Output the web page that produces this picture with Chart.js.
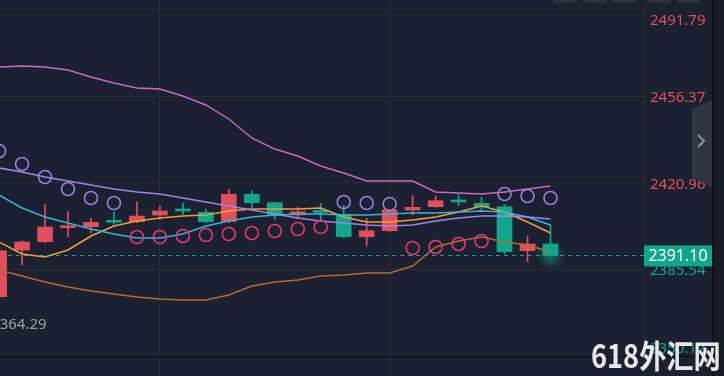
<!DOCTYPE html>
<html>
<head>
<meta charset="utf-8">
<script src="https://cdn.jsdelivr.net/npm/chart.js@4.4.1/dist/chart.umd.min.js"></script>
<style>
  html, body { margin: 0; padding: 0; background: #1b2130; }
  #wrap { position: relative; width: 724px; height: 376px; overflow: hidden; }
  #mark { position: absolute; left: 591px; top: 331px; font: bold 32px "Noto Sans CJK SC", sans-serif; color: #e8e8ea;
          transform: scaleX(0.85); transform-origin: left top; white-space: nowrap; }
</style>
</head>
<body>
<div id="wrap">
  <canvas id="kline"></canvas>
  <div id="mark">618外汇网</div>
</div>

<script>
/* K-LINE: candles + MA + BOLL + SAR */

// candles, oldest first
const opens  = [2374.20, 2393.30, 2396.72, 2402.45, 2402.86, 2404.90, 2404.90, 2407.65, 2409.50, 2408.75, 2405.00, 2416.12, 2412.68,
                2407.65, 2408.90, 2407.93, 2398.76, 2401.22, 2409.69, 2411.05, 2413.20, 2412.44, 2411.05, 2393.03, 2395.77];
const closes = [2393.03, 2396.59, 2402.73, 2402.70, 2404.66, 2404.70, 2407.24, 2409.29, 2409.30, 2404.90, 2416.12, 2412.68, 2407.65,
                2409.00, 2408.70, 2398.76, 2401.22, 2409.69, 2410.80, 2413.50, 2413.00, 2411.05, 2392.62, 2395.77, 2391.10];
const highs  = [2393.60, 2397.12, 2412.03, 2409.00, 2406.42, 2409.00, 2413.09, 2411.33, 2412.56, 2410.10, 2418.17, 2417.60, 2412.97,
                2410.80, 2412.44, 2411.74, 2406.30, 2409.98, 2415.43, 2415.43, 2415.90, 2414.89, 2412.03, 2399.05, 2403.55];
const lows   = [2364.29, 2387.17, 2396.18, 2398.76, 2400.28, 2403.84, 2404.49, 2405.89, 2407.93, 2404.49, 2404.49, 2410.39, 2405.89,
                2406.30, 2405.60, 2398.35, 2394.96, 2400.81, 2407.65, 2410.80, 2411.40, 2409.69, 2391.68, 2388.53, 2391.10];

// indicators
const bollUpper = [2468.25, 2468.66, 2468.25, 2467.02, 2464.15, 2461.70, 2459.65, 2459.24, 2456.37, 2452.69, 2446.95, 2439.18, 2434.67,
                   2431.81, 2427.71, 2424.85, 2421.57, 2421.57, 2421.57, 2417.07, 2416.66, 2416.25, 2417.07, 2418.29, 2419.52];
const bollMid   = [2426.89, 2425.25, 2423.21, 2421.57, 2419.93, 2418.29, 2417.07, 2416.25, 2414.61, 2412.97, 2411.33, 2409.70, 2408.06,
                   2406.42, 2405.19, 2404.37, 2403.55, 2403.14, 2403.55, 2405.19, 2406.42, 2407.24, 2407.24, 2406.83, 2406.01];
const bollLower = [2385.13, 2382.67, 2380.21, 2378.17, 2376.53, 2375.30, 2374.07, 2373.25, 2372.84, 2372.84, 2374.89, 2378.58, 2380.21,
                   2381.03, 2382.67, 2383.08, 2383.90, 2383.90, 2386.77, 2394.55, 2397.00, 2398.64, 2396.59, 2395.36, 2392.50];
const maFast    = [2396.59, 2391.68, 2390.45, 2393.32, 2399.05, 2403.14, 2405.19, 2406.42, 2407.24, 2407.65, 2409.29, 2410.10, 2410.10,
                   2410.10, 2410.51, 2406.83, 2404.78, 2404.78, 2405.60, 2406.83, 2408.88, 2411.33, 2408.88, 2404.78, 2400.28];
const maSlow    = [2415.84, 2410.51, 2406.83, 2404.37, 2401.92, 2399.87, 2398.23, 2398.23, 2399.87, 2403.14, 2405.19, 2406.83, 2407.65,
                   2408.06, 2408.06, 2407.65, 2407.65, 2408.06, 2408.47, 2408.47, 2408.88, 2409.29, 2408.88, 2406.83, 2403.55];
const sar       = [2433.85, 2428.53, 2423.21, 2418.29, 2414.61, 2412.56, 2398.64, 2398.64, 2399.05, 2399.46, 2399.87, 2400.28, 2401.10,
                   2401.92, 2402.73, 2412.97, 2412.56, 2412.15, 2394.14, 2394.55, 2395.77, 2397.00, 2416.25, 2415.43, 2414.61];

const priceTicks = [2491.79, 2456.37, 2420.96, 2385.54, 2350.12];
const timeGrid = [7, 17];
const lastPrice = 2391.10;
const lowLabel = 2364.29;

const UP = '#e04f5c', DOWN = '#11a68b', GRID = '#262d3b';

const candleColor = opens.map((o, i) => closes[i] >= o ? UP : DOWN);
const xy = arr => arr.map((v, i) => ({ x: i, y: v }));

const extras = {
  id: 'extras',
  beforeDraw(chart) {
    const c = chart.ctx;
    c.save();
    c.fillStyle = '#1b2130';
    c.fillRect(0, 0, chart.width, chart.height);
    c.restore();
  },
  beforeDatasetsDraw(chart) {
    const c = chart.ctx, y = chart.scales.y.getPixelForValue(lastPrice);
    c.save();
    c.strokeStyle = DOWN;
    c.lineWidth = 1;
    c.setLineDash([4, 4]);
    c.beginPath();
    c.moveTo(0, Math.round(y) + 0.5);
    c.lineTo(chart.chartArea.right, Math.round(y) + 0.5);
    c.stroke();
    c.restore();
  },
  afterDatasetsDraw(chart) {
    const c = chart.ctx;
    const n = closes.length - 1;
    const gx = chart.scales.x.getPixelForValue(n), gy = chart.scales.y.getPixelForValue(lastPrice);
    const g = c.createRadialGradient(gx, gy, 0, gx, gy, 14);
    g.addColorStop(0, 'rgba(17,166,139,0.6)');
    g.addColorStop(1, 'rgba(17,166,139,0)');
    c.save();
    c.fillStyle = g;
    c.beginPath();
    c.arc(gx, gy, 14, 0, Math.PI * 2);
    c.fill();
    c.restore();
  },
  afterDraw(chart) {
    const c = chart.ctx, ys = chart.scales.y, xs = chart.scales.x;
    const right = chart.chartArea.right;
    c.save();
    // bottom pane separator
    const by = Math.round(ys.getPixelForValue(priceTicks[priceTicks.length - 1])) + 0.5;
    c.strokeStyle = '#0c1017';
    c.lineWidth = 1.5;
    c.beginPath(); c.moveTo(0, by); c.lineTo(712, by); c.stroke();

    // min price label
    c.fillStyle = '#9aa0ab';
    c.font = '15px "Noto Sans"';
    c.textBaseline = 'middle';
    c.textAlign = 'left';
    c.fillText(lowLabel.toFixed(2), xs.getPixelForValue(0) - 8, ys.getPixelForValue(lowLabel) + 4);

    // last price box
    const py = ys.getPixelForValue(lastPrice);
    c.fillStyle = '#0fa68a';
    c.fillRect(right, py - 10, 68, 21);
    c.fillStyle = '#ffffff';
    c.font = '16px "Noto Sans"';
    c.textAlign = 'center';
    c.fillText(lastPrice.toFixed(2), right + 34, py + 1);

    // side strip
    c.fillStyle = '#161b25';
    c.fillRect(712, 0, 12, chart.height);
    c.fillStyle = '#0b0e14';
    c.fillRect(712, 0, 1.5, chart.height);

    // collapse button
    c.fillStyle = '#2f3543';
    c.beginPath();
    c.moveTo(692, 109); c.lineTo(712, 100); c.lineTo(712, 187); c.lineTo(692, 178);
    c.closePath(); c.fill();
    c.strokeStyle = '#8b91a0';
    c.lineWidth = 2;
    c.beginPath(); c.moveTo(698, 135); c.lineTo(704, 141); c.lineTo(698, 147); c.stroke();

    // toolbar buttons peeking at top
    c.fillStyle = '#2b313e';
    [553, 583, 612, 647, 677].forEach(bx => {
      c.beginPath();
      c.roundRect(bx, -6, 24, 9, 3);
      c.fill();
    });
    c.restore();
  }
};

const ctx = document.getElementById('kline').getContext('2d');
const chart = new Chart(ctx, {
  type: 'bar',
  data: {
    datasets: [
      {
        type: 'line', label: 'SAR', data: xy(sar), showLine: false,
        pointStyle: 'circle', pointRadius: 6.5, pointBorderWidth: 1.6,
        pointBackgroundColor: 'rgba(0,0,0,0)',
        pointBorderColor: sar.map((v, i) => v > highs[i] ? '#9a7fe2' : '#e2377f'),
        order: 0
      },
      { type: 'line', label: 'BOLL UP', data: xy(bollUpper), borderColor: '#cc69c4', borderWidth: 1.4, pointRadius: 0, tension: 0, order: 1 },
      { type: 'line', label: 'BOLL MID', data: xy(bollMid), borderColor: '#9a86ea', borderWidth: 1.6, pointRadius: 0, tension: 0, order: 1 },
      { type: 'line', label: 'BOLL DN', data: xy(bollLower), borderColor: '#b86a30', borderWidth: 1.4, pointRadius: 0, tension: 0, order: 1 },
      { type: 'line', label: 'MA slow', data: xy(maSlow), borderColor: '#36b4d8', borderWidth: 1.5, pointRadius: 0, tension: 0, order: 1 },
      { type: 'line', label: 'MA fast', data: xy(maFast), borderColor: '#f0a033', borderWidth: 1.5, pointRadius: 0, tension: 0, order: 1 },
      {
        label: 'body', data: opens.map((o, i) => ({ x: i, y: [o, closes[i]] })),
        backgroundColor: candleColor, borderWidth: 0, barThickness: 15, minBarLength: 2,
        grouped: false, order: 2
      },
      {
        label: 'wick', data: lows.map((l, i) => ({ x: i, y: [l, highs[i]] })),
        backgroundColor: candleColor, borderWidth: 0, barThickness: 1,
        grouped: false, order: 3
      }
    ]
  },
  options: {
    responsive: true,
    maintainAspectRatio: false,
    animation: false,
    layout: { padding: 0, autoPadding: false },
    plugins: { legend: { display: false }, tooltip: { enabled: false } },
    scales: {
      x: {
        type: 'linear', min: 0.04, max: 28.07, offset: false,
        grid: { color: GRID, offset: false, drawTicks: false },
        border: { display: false },
        ticks: { display: false },
        afterBuildTicks: s => { s.ticks = timeGrid.map(v => ({ value: v })); },
        afterFit: s => { s.height = 0; s.paddingLeft = 0; s.paddingRight = 0; }
      },
      y: {
        position: 'right', min: 2341.73, max: 2495.68,
        grid: { color: GRID, drawTicks: false },
        border: { display: true, color: GRID },
        afterBuildTicks: s => { s.ticks = priceTicks.map(v => ({ value: v })); },
        afterFit: s => { s.width = 80; s.paddingTop = 0; s.paddingBottom = 0; },
        ticks: {
          padding: 6,
          labelOffset: 2,
          font: { family: 'Noto Sans', size: 15 },
          color: c => c.tick && c.tick.value > lastPrice ? '#e04f5c' : '#11a68b',
          // edge labels are pushed inside the pane, like the terminal does
          callback: (v, i, t) => {
            const s = v.toFixed(2);
            if (i === 0) return ['', s];
            if (i === t.length - 1) return [s, ''];
            return s;
          }
        }
      }
    }
  },
  plugins: [extras]
});
</script>
</body>
</html>
